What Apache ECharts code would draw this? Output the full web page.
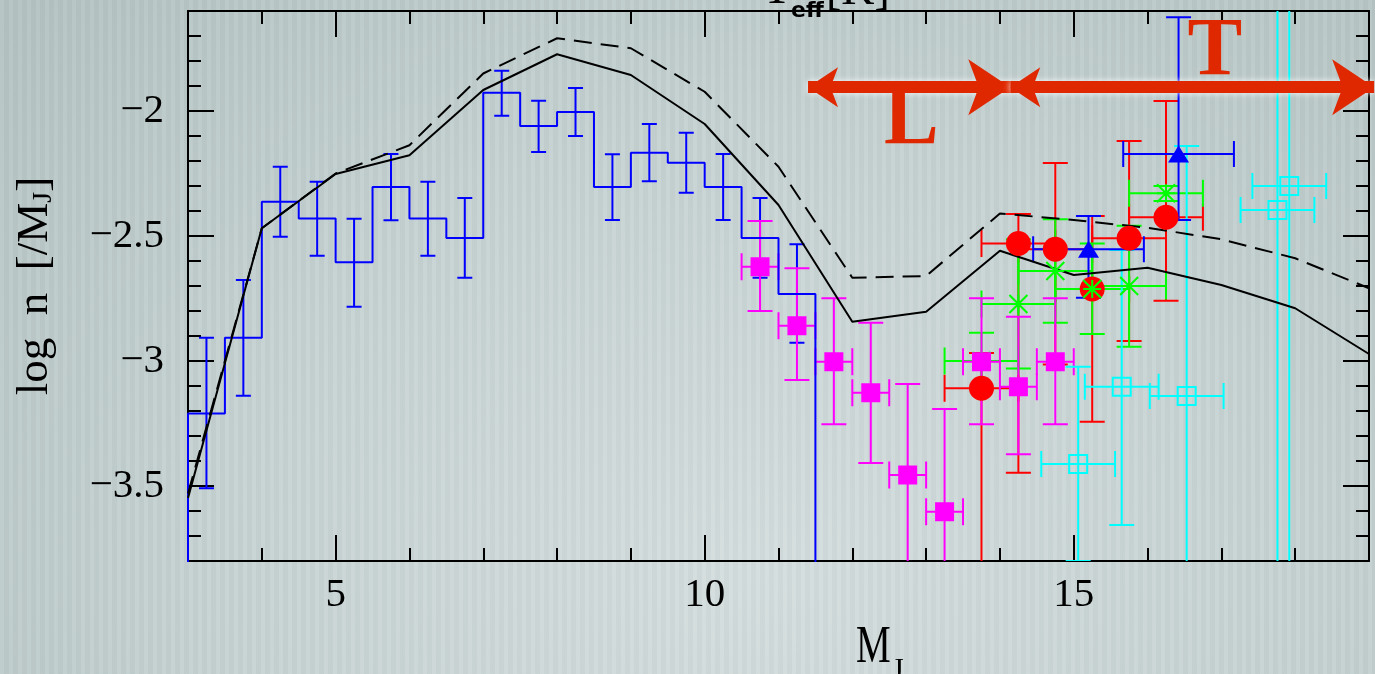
<!DOCTYPE html>
<html><head><meta charset="utf-8">
<script src="https://cdn.jsdelivr.net/npm/echarts@6/dist/echarts.min.js"></script>
<style>
html,body{margin:0;padding:0;overflow:hidden;}
#chart{width:1375px;height:674px;
background:
 repeating-linear-gradient(90deg, rgba(255,255,255,0.035) 0px, rgba(255,255,255,0.035) 4px, rgba(0,0,0,0.025) 4px, rgba(0,0,0,0.025) 9px),
 radial-gradient(ellipse 75% 120% at 55% 85%, #d5dede 0%, #c6d2d2 55%, #b4c3c3 100%);}
</style></head><body><div id="chart"></div>
<script>
// ---- ticks ----
const xMajorTicks = [5, 10, 15];
const xMinorTicks = [3, 4, 5, 6, 7, 8, 9, 10, 11, 12, 13, 14, 15, 16, 17, 18, 19];
const yMajorTicks = [-3.5, -3, -2.5, -2];
const yMinorTicks = [-3.8, -3.7, -3.6, -3.5, -3.4, -3.3, -3.2, -3.1, -3.0, -2.9, -2.8, -2.7, -2.6, -2.5, -2.4, -2.3, -2.2, -2.1, -2.0, -1.9, -1.8, -1.7, -1.6];

// ---- blue histogram (bins of 0.5 mag) ----
const histCenters = [3.25, 3.75, 4.25, 4.75, 5.25, 5.75, 6.25, 6.75, 7.25, 7.75, 8.25, 8.75, 9.25, 9.75, 10.25, 10.75, 11.25];
const histValues  = [-3.21, -2.907, -2.363, -2.43, -2.605, -2.304, -2.43, -2.508, -1.927, -2.06, -2.004, -2.304, -2.167, -2.207, -2.304, -2.508, -2.732];
const histLow     = [-3.509, -3.139, -2.503, -2.579, -2.783, -2.437, -2.579, -2.667, -2.019, -2.164, -2.10, -2.436, -2.281, -2.327, -2.436, -2.667, -2.927];
const histHigh    = [-2.907, -2.676, -2.223, -2.283, -2.431, -2.172, -2.283, -2.348, -1.839, -1.959, -1.908, -2.173, -2.052, -2.087, -2.172, -2.348, -2.533];
const histBinWidth = 0.5;
const histFloor = -4.0;

// ---- model curves ----
const modelX      = [3, 4, 5, 6, 7, 8, 9, 10, 11, 12, 13, 14, 15, 16, 17, 18, 19];
const modelSolid  = [-3.548, -2.469, -2.252, -2.177, -1.916, -1.773, -1.856, -2.052, -2.376, -2.843, -2.803, -2.559, -2.656, -2.627, -2.696, -2.789, -2.972];
const modelDashed = [-3.53, -2.469, -2.25, -2.137, -1.85, -1.709, -1.749, -1.923, -2.223, -2.667, -2.66, -2.41, -2.436, -2.467, -2.513, -2.589, -2.709];

// ---- red circles ----
const redX    = [13.75, 14.25, 14.75, 15.25, 15.75, 16.25];
const redY    = [-3.109, -2.530, -2.553, -2.712, -2.509, -2.425];
const redLow  = [-3.95, -3.447, -3.014, -3.243, -2.92, -2.759];
const redHigh = [-2.968, -2.412, -2.208, -2.42, -2.12, -1.96];
const redXErr = 0.5;

// ---- green asterisks ----
const greenX    = [13.75, 14.25, 14.75, 15.25, 15.75, 16.25];
const greenY    = [-3.0, -2.772, -2.64, -2.712, -2.70, -2.329];
const greenLow  = [-3.113, -3.03, -2.847, -2.892, -2.943, -2.36];
const greenHigh = [-2.887, -2.513, -2.433, -2.53, -2.459, -2.30];
const greenXErr = 0.5;

// ---- magenta squares ----
const magentaX    = [10.75, 11.25, 11.75, 12.25, 12.75, 13.25, 13.75, 14.25, 14.75];
const magentaY    = [-2.623, -2.859, -3.003, -3.127, -3.456, -3.603, -3.003, -3.103, -3.003];
const magentaLow  = [-2.80, -3.076, -3.253, -3.408, -3.95, -3.95, -3.253, -3.373, -3.253];
const magentaHigh = [-2.44, -2.629, -2.749, -2.847, -3.092, -3.192, -2.749, -2.823, -2.749];
const magentaXErr = 0.25;

// ---- cyan open squares ----
const cyanX    = [15.06, 15.65, 16.53, 17.76, 17.92];
const cyanY    = [-3.412, -3.103, -3.14, -2.396, -2.30];
const cyanLow  = [-3.80, -3.656, -3.95, -3.95, -3.95];
const cyanHigh = [-3.023, -2.556, -2.14, -1.45, -1.45];
const cyanXErr = 0.5;

// ---- blue triangles ----
const triX    = [15.2, 16.42];
const triY    = [-2.553, -2.172];
const triLow  = [-2.747, -2.436];
const triHigh = [-2.42, -1.625];
const triXErr = 0.75;

// ---- spectral-type arrows and letters ----
const arrowY = -1.905;
const arrowL = [11.40, 14.14];
const arrowT = [14.14, 19.07];
const letterX = [12.80, 16.91];
const letterY = [-2.042, -1.768];
const letterText = ['L', 'T'];

// ---------------------------------------------------------------
const zip = (xs, ys, lo, hi, xe) => xs.map((x, i) => [x, ys[i], lo[i], hi[i], xe]);
const pts = (xs, ys) => xs.map((x, i) => [x, ys[i]]);

const histLine = [[histCenters[0] - histBinWidth / 2, histFloor]];
histCenters.forEach((c, i) => {
  histLine.push([c - histBinWidth / 2, histValues[i]]);
  histLine.push([c + histBinWidth / 2, histValues[i]]);
});
histLine.push([histCenters[histCenters.length - 1] + histBinWidth / 2, histFloor]);

function errRender(color, capW, capH) {
  return function (params, api) {
    const x = api.value(0), y = api.value(1), lo = api.value(2), hi = api.value(3), xe = api.value(4);
    const pLo = api.coord([x, lo]), pHi = api.coord([x, hi]);
    const style = { stroke: color, lineWidth: 2, fill: null };
    const seg = (x1, y1, x2, y2) => ({ type: 'line', shape: { x1, y1, x2, y2 }, style });
    const ch = [
      seg(pLo[0], pLo[1], pHi[0], pHi[1]),
      seg(pHi[0] - capW / 2, pHi[1], pHi[0] + capW / 2, pHi[1]),
      seg(pLo[0] - capW / 2, pLo[1], pLo[0] + capW / 2, pLo[1])
    ];
    if (xe > 0) {
      const pL = api.coord([x - xe, y]), pR = api.coord([x + xe, y]);
      ch.push(seg(pL[0], pL[1], pR[0], pR[1]));
      ch.push(seg(pL[0], pL[1] - capH / 2, pL[0], pL[1] + capH / 2));
      ch.push(seg(pR[0], pR[1] - capH / 2, pR[0], pR[1] + capH / 2));
    }
    return { type: 'group', children: ch };
  };
}
function errSeries(name, data, color, capW, capH) {
  return { name, type: 'custom', renderItem: errRender(color, capW, capH), data,
    dimensions: ['x', 'y', 'lo', 'hi', 'xe'], encode: { x: 0, y: 1 }, clip: true, silent: true };
}
function markSeries(name, data, symbol, size, style) {
  return { name, type: 'scatter', data, symbol, symbolSize: size, itemStyle: style, silent: true };
}

const FONT = 'Liberation Serif';
const minus = v => (v < 0 ? '\u2212' : '') + Math.abs(v);
const axisBase = { min: 3, max: 19, type: 'value', splitLine: { show: false } };
const yBase = { min: -3.8, max: -1.6, type: 'value', splitLine: { show: false } };
const lineStyleAxis = { show: true, lineStyle: { color: '#000', width: 2 } };
const tickMajor = (vals) => ({ show: true, inside: true, length: 26, customValues: vals, lineStyle: { color: '#000', width: 2 } });
const tickMinor = (vals) => ({ show: true, inside: true, length: 13, customValues: vals, lineStyle: { color: '#000', width: 2 } });

const chart = echarts.init(document.getElementById('chart'));
chart.setOption({
  backgroundColor: 'transparent',
  animation: false,
  grid: { left: 188, right: 6, top: 11, bottom: 113, containLabel: false, outerBoundsMode: 'none' },
  xAxis: [
    Object.assign({}, axisBase, { position: 'bottom', axisLine: lineStyleAxis, axisTick: tickMajor(xMajorTicks),
      axisLabel: { customValues: xMajorTicks, margin: 14, fontFamily: FONT, fontSize: 41, color: '#000' } }),
    Object.assign({}, axisBase, { position: 'bottom', axisLine: { show: false }, axisTick: tickMinor(xMinorTicks), axisLabel: { show: false } }),
    Object.assign({}, axisBase, { position: 'top', axisLine: lineStyleAxis, axisTick: tickMajor(xMajorTicks), axisLabel: { show: false } }),
    Object.assign({}, axisBase, { position: 'top', axisLine: { show: false }, axisTick: tickMinor(xMinorTicks), axisLabel: { show: false } })
  ],
  yAxis: [
    Object.assign({}, yBase, { position: 'left', axisLine: lineStyleAxis, axisTick: tickMajor(yMajorTicks),
      axisLabel: { customValues: yMajorTicks, margin: 24, fontFamily: FONT, fontSize: 41, color: '#000', formatter: minus },
      name: '{a|log  n  [/M}{s|J}{a|]}', nameLocation: 'middle', nameGap: 130, nameRotate: 90,
      nameTextStyle: { fontFamily: FONT, fontSize: 45, color: '#000',
        rich: { a: { fontFamily: FONT, fontSize: 45, lineHeight: 45, verticalAlign: 'top', color: '#000' },
                s: { fontFamily: FONT, fontSize: 28, lineHeight: 28, verticalAlign: 'bottom', padding: [40, 0, 0, 0], color: '#000' } } } }),
    Object.assign({}, yBase, { position: 'left', axisLine: { show: false }, axisTick: tickMinor(yMinorTicks), axisLabel: { show: false } }),
    Object.assign({}, yBase, { position: 'right', axisLine: lineStyleAxis, axisTick: tickMajor(yMajorTicks), axisLabel: { show: false } }),
    Object.assign({}, yBase, { position: 'right', axisLine: { show: false }, axisTick: tickMinor(yMinorTicks), axisLabel: { show: false } })
  ],
  graphic: [
    { type: 'text', left: 856, top: 622, scaleX: 0.75, style: { text: 'M', font: '52px "Liberation Serif"', fill: '#000' } },
    { type: 'text', left: 892, top: 655, style: { text: 'J', font: '30px "Liberation Serif"', fill: '#000' } },
    { type: 'text', x: 777, y: 15, style: { text: 'T', font: '50px "Liberation Serif"', fill: '#000', textAlign: 'center', textVerticalAlign: 'bottom' } },
    { type: 'text', x: 791, y: 22, style: { text: 'eff', font: 'bold 22px "DejaVu Sans"', fill: '#000', textAlign: 'left', textVerticalAlign: 'bottom' } },
    { type: 'text', x: 826, y: 15, style: { text: '[K]', font: '46px "Liberation Serif"', fill: '#000', textAlign: 'left', textVerticalAlign: 'bottom' } }
  ],
  series: [
    { name: 'hist', type: 'line', data: histLine, symbol: 'none', lineStyle: { color: '#0000ff', width: 2 }, clip: true, silent: true, z: 2 },
    errSeries('histErr', zip(histCenters, histValues, histLow, histHigh, 0), '#0000ff', 15, 0),
    { name: 'model', type: 'line', data: pts(modelX, modelSolid), symbol: 'none', lineStyle: { color: '#000', width: 2 }, silent: true, z: 2 },
    { name: 'modelDashed', type: 'line', data: pts(modelX, modelDashed), symbol: 'none', lineStyle: { color: '#000', width: 2, type: [18, 9] }, silent: true, z: 2 },
    errSeries('redErr', zip(redX, redY, redLow, redHigh, redXErr), '#ff0000', 25, 27),
    markSeries('red', pts(redX, redY), 'circle', 25, { color: '#ff0000', opacity: 1 }),
    errSeries('greenErr', zip(greenX, greenY, greenLow, greenHigh, greenXErr), '#00ff00', 25, 27),
    markSeries('green', pts(greenX, greenY), 'path://M0,0L20,20M0,20L20,0M10,0L10,20M0,10L20,10', 18, { color: 'rgba(0,0,0,0)', borderColor: '#00ff00', borderWidth: 2, opacity: 1 }),
    errSeries('magentaErr', zip(magentaX, magentaY, magentaLow, magentaHigh, magentaXErr), '#ff00ff', 25, 27),
    markSeries('magenta', pts(magentaX, magentaY), 'rect', 19, { color: '#ff00ff', opacity: 1 }),
    errSeries('cyanErr', zip(cyanX, cyanY, cyanLow, cyanHigh, cyanXErr), '#00ffff', 25, 26),
    markSeries('cyan', pts(cyanX, cyanY), 'rect', 18, { color: 'rgba(0,0,0,0)', borderColor: '#00ffff', borderWidth: 2, opacity: 1 }),
    errSeries('triErr', zip(triX, triY, triLow, triHigh, triXErr), '#0000ff', 25, 26),
    markSeries('tri', pts(triX, triY), 'triangle', [21, 17], { color: '#0000ff', opacity: 1 }),
    { name: 'arrows', type: 'lines', coordinateSystem: 'cartesian2d', polyline: false, silent: true, z: 5,
      symbol: ['arrow', 'arrow'], symbolSize: [30, 42],
      lineStyle: { color: '#e02800', width: 12, opacity: 1, shadowBlur: 6, shadowColor: 'rgba(255,255,255,0.9)' },
      data: [ { coords: [[arrowL[0], arrowY], [arrowL[1], arrowY]] }, { coords: [[arrowT[0], arrowY], [arrowT[1], arrowY]] } ] },
    { name: 'letters', type: 'custom', silent: true, z: 6, clip: false,
      data: letterX.map((x, i) => [x, letterY[i], i]),
      encode: { x: 0, y: 1 },
      renderItem: (params, api) => {
        const p = api.coord([api.value(0), api.value(1)]);
        return { type: 'text', x: p[0], y: p[1],
          style: { text: letterText[api.value(2)], font: 'bold 82px "Liberation Serif"', fill: '#e02800',
            textAlign: 'center', textVerticalAlign: 'middle', shadowBlur: 5, shadowColor: 'rgba(255,255,255,0.7)' } };
      } }
  ]
});
</script></body></html>
